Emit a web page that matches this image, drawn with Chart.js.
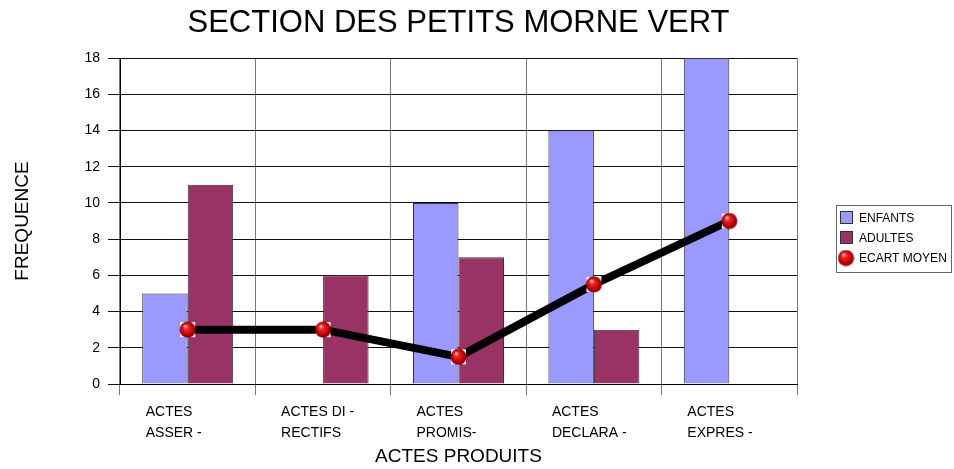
<!DOCTYPE html>
<html>
<head>
<meta charset="utf-8">
<script src="https://cdn.jsdelivr.net/npm/chart.js@4"></script>
<style>
  html, body { margin: 0; padding: 0; background: #fff; }
  #wrap { width: 954px; height: 469px; }
</style>
</head>
<body>
<div id="wrap"><canvas id="chart" width="954" height="469"></canvas></div>
<script>
// données
const categories = [['ACTES', 'ASSER -'], ['ACTES DI -', 'RECTIFS'], ['ACTES', 'PROMIS-'], ['ACTES', 'DECLARA -'], ['ACTES', 'EXPRES -']];
const enfants = [5, 0, 10, 14, 18];
const adultes = [11, 6, 7, 3, 0];
const ecartMoyen = [3, 3, 1.5, 5.5, 9];
const yTickValues = [0, 2, 4, 6, 8, 10, 12, 14, 16, 18];

const FONT = "'Liberation Sans', Arial, sans-serif";
Chart.defaults.font.family = FONT;
Chart.defaults.color = '#000';

// petite sphère rouge pour les points de la courbe
function makeSphere(r) {
    const c = document.createElement('canvas');
    const s = r * 2 + 1;
    c.width = s;
    c.height = s;
    const g = c.getContext('2d');
    g.fillStyle = '#fff';
    g.fillRect(1, 1, s - 2, s - 2);
    const grad = g.createRadialGradient(r - 2, r - 3, 0.5, r + 0.5, r + 0.5, r);
    grad.addColorStop(0, '#ffc8c8');
    grad.addColorStop(0.25, '#ee2a2a');
    grad.addColorStop(0.75, '#c00000');
    grad.addColorStop(1, '#7a0000');
    g.fillStyle = grad;
    g.beginPath();
    g.arc(r + 0.5, r + 0.5, r, 0, Math.PI * 2);
    g.fill();
    return c;
}
const sphere = makeSphere(8);

// étiquettes de l'axe X, alignées à gauche comme dans Excel
const xLabels = {
    id: 'xLabels',
    afterDraw(chart) {
        const ctx = chart.ctx;
        const x = chart.scales.x;
        ctx.save();
        ctx.font = '14px ' + FONT;
        ctx.fillStyle = '#000';
        ctx.textAlign = 'left';
        ctx.textBaseline = 'alphabetic';
        categories.forEach(function(lines, i) {
            const px = x.getPixelForTick(i) - 42;
            lines.forEach(function(t, j) {
                ctx.fillText(t, px, x.top + 32 + j * 21);
            });
        });
        ctx.restore();
    }
};

// légende encadrée à droite
const boxLegend = {
    id: 'boxLegend',
    afterDraw(chart) {
        const ctx = chart.ctx;
        const ds = chart.data.datasets;
        ctx.save();
        ctx.strokeStyle = '#666';
        ctx.lineWidth = 1;
        ctx.strokeRect(836.5, 205.5, 115, 67);
        ctx.font = '12px ' + FONT;
        ctx.textAlign = 'left';
        ctx.textBaseline = 'middle';
        const rows = [218, 238, 258];
        ds.forEach(function(d, i) {
            const y = rows[i];
            if (d.type === 'line') {
                ctx.drawImage(sphere, 846 - sphere.width / 2, y - sphere.height / 2);
            } else {
                ctx.fillStyle = d.backgroundColor;
                ctx.fillRect(840.5, y - 6.5, 12, 12);
                ctx.strokeStyle = '#333';
                ctx.strokeRect(840.5, y - 6.5, 12, 12);
            }
            ctx.fillStyle = '#000';
            ctx.fillText(d.label, 859, y + 1);
        });
        ctx.restore();
    }
};

new Chart(document.getElementById('chart'), {
    type: 'bar',
    data: {
        labels: categories,
        datasets: [{
            label: 'ENFANTS',
            data: enfants,
            backgroundColor: '#9999ff',
            borderColor: '#333',
            borderWidth: 1,
            order: 1
        }, {
            label: 'ADULTES',
            data: adultes,
            backgroundColor: '#993366',
            borderColor: '#333',
            borderWidth: 1,
            order: 1
        }, {
            type: 'line',
            label: 'ECART MOYEN',
            data: ecartMoyen,
            borderColor: '#000',
            borderWidth: 8,
            tension: 0,
            pointStyle: sphere,
            pointRadius: 8,
            order: 0
        }]
    },
    options: {
        responsive: false,
        animation: false,
        devicePixelRatio: 1,
        layout: { padding: { left: 0, right: 157, top: 0, bottom: 0 } },
        datasets: {
            bar: { categoryPercentage: 0.672, barPercentage: 1.0 }
        },
        plugins: {
            legend: { display: false },
            tooltip: { enabled: false },
            title: {
                display: true,
                fullSize: false,
                text: 'SECTION DES PETITS MORNE VERT',
                color: '#000',
                font: { size: 31, weight: 'normal', lineHeight: 1 },
                padding: { top: 8, bottom: 19 }
            }
        },
        scales: {
            x: {
                offset: true,
                grid: { offset: true, color: '#777', tickLength: 11, drawTicks: true },
                border: { color: '#000' },
                ticks: { display: false },
                title: {
                    display: true,
                    text: 'ACTES PRODUITS',
                    font: { size: 19 },
                    padding: { top: 0, bottom: 1 }
                },
                afterFit(s) { s.height = 85; }
            },
            y: {
                min: 0,
                max: 18,
                afterBuildTicks(s) { s.ticks = yTickValues.map(function(v) { return { value: v }; }); },
                grid: { color: '#111', tickLength: 12 },
                border: { color: '#000' },
                ticks: { font: { size: 14 }, padding: 8, color: '#000' },
                title: {
                    display: true,
                    text: 'FREQUENCE',
                    font: { size: 19 },
                    padding: { top: 11, bottom: 0 }
                },
                afterFit(s) { s.width = 120; }
            }
        }
    },
    plugins: [xLabels, boxLegend]
});
</script>
</body>
</html>
